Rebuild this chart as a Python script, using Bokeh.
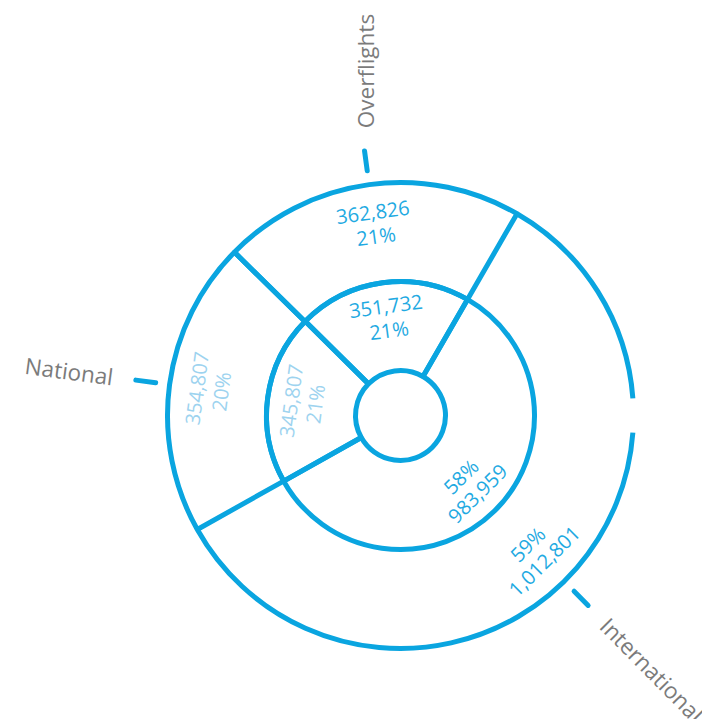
import math
from bokeh.plotting import figure
from bokeh.models import Range1d, ColumnDataSource
from bokeh.core.properties import value
from bokeh.embed import file_html
from bokeh.resources import INLINE

# ---- data ----
categories = ["Overflights", "National", "International"]
outer_values = [362826, 354807, 1012801]
inner_values = [351732, 345807, 983959]
outer_pct = ["21%", "20%", "59%"]
inner_pct = ["21%", "21%", "58%"]

# ---- layout / style ----
W, H = 702, 719
CX, CY = 400, H - 415
R0, R1, R2 = 45, 134, 233
START = 60.0  # degrees, counter-clockwise from east
LINE = "#0aa5e0"
TXT = "#1faae2"
TXT_LIGHT = "#9dd3ef"
TXT_COLORS = [TXT, TXT_LIGHT, TXT]
GREY = "#7b7b7b"
FONT = "Open Sans"
LW = 5

p = figure(width=W, height=H, x_range=Range1d(0, W), y_range=Range1d(0, H),
           output_backend="svg", toolbar_location=None, min_border=0)
p.axis.visible = False
p.grid.visible = False
p.outline_line_color = None
p.background_fill_color = "white"
p.border_fill_color = "white"


def ring_angles(vals):
    tot = float(sum(vals))
    starts, ends = [], []
    a = START
    for v in vals:
        starts.append(a)
        a += v / tot * 360.0
        ends.append(a)
    return starts, ends


in_s, in_e = ring_angles(inner_values)
out_s, out_e = ring_angles(outer_values)

# inner ring wedges
p.annular_wedge(x=[CX] * 3, y=[CY] * 3, inner_radius=R0, outer_radius=R1,
                start_angle=[math.radians(a) for a in in_s],
                end_angle=[math.radians(a) for a in in_e],
                direction="anticlock", fill_color=None,
                line_color=LINE, line_width=LW)

# outer ring wedges: first two outlined, last one's outer arc drawn split
p.annular_wedge(x=[CX] * 2, y=[CY] * 2, inner_radius=R1, outer_radius=R2,
                start_angle=[math.radians(a) for a in out_s[:2]],
                end_angle=[math.radians(a) for a in out_e[:2]],
                direction="anticlock", fill_color=None,
                line_color=LINE, line_width=LW)
GAP = 4.2
p.arc(x=[CX, CX], y=[CY, CY], radius=R2,
      start_angle=[math.radians(out_s[2]), math.radians(360 + GAP)],
      end_angle=[math.radians(360 - GAP), math.radians(out_e[2])],
      direction="anticlock", line_color=LINE, line_width=LW)

# tick marks at category mid-angles
mids = [(s + e) / 2 for s, e in zip(out_s, out_e)]
tx0 = [CX + 247 * math.cos(math.radians(m)) for m in mids]
ty0 = [CY + 247 * math.sin(math.radians(m)) for m in mids]
tx1 = [CX + 267 * math.cos(math.radians(m)) for m in mids]
ty1 = [CY + 267 * math.sin(math.radians(m)) for m in mids]
p.segment(x0=tx0, y0=ty0, x1=tx1, y1=ty1, line_color=LINE,
          line_width=LW, line_cap="round")

# category labels
cat_rot = [90.0, mids[1] - 180.0, mids[2] - 360.0]
cat_align = ["left", "right", "left"]
RL = 290
cx_l = [CX + RL * math.cos(math.radians(m)) for m in mids]
cy_l = [CY + RL * math.sin(math.radians(m)) for m in mids]
cx_l[0] = 365
for i in range(3):
    p.text(x=[cx_l[i]], y=[cy_l[i]], text=[categories[i]],
           angle=math.radians(cat_rot[i]), text_align=cat_align[i],
           text_baseline="middle", text_color=GREY,
           text_font=value(FONT), text_font_size="22.5px")

# value labels
SP = 24


def add_labels(vals, pcts, starts, ends, r):
    xs, ys, txt, ang, col = [], [], [], [], []
    for i, (v, pc, s, e) in enumerate(zip(vals, pcts, starts, ends)):
        m = (s + e) / 2
        mm = m % 360
        if 0 <= mm <= 180:
            rot = mm - 90
            lines = [f"{v:,}", pc]
        else:
            rot = mm - 270
            lines = [pc, f"{v:,}"]
        bx = CX + r * math.cos(math.radians(m))
        by = CY + r * math.sin(math.radians(m))
        th = math.radians(rot)
        dx, dy = math.sin(th), -math.cos(th)
        for k, ln in enumerate(lines):
            off = (k - 0.5) * SP
            xs.append(bx + off * dx)
            ys.append(by + off * dy)
            txt.append(ln)
            ang.append(th)
            col.append(TXT_COLORS[i])
    src = ColumnDataSource(dict(x=xs, y=ys, text=txt, angle=ang, color=col))
    p.text(x="x", y="y", text="text", angle="angle", source=src,
           text_align="center", text_baseline="middle", text_color="color",
           text_font=value(FONT), text_font_size="20px")


add_labels(inner_values, inner_pct, in_s, in_e, 98)
add_labels(outer_values, outer_pct, out_s, out_e, 193)

open("out.html", "w").write(file_html(p, INLINE))
